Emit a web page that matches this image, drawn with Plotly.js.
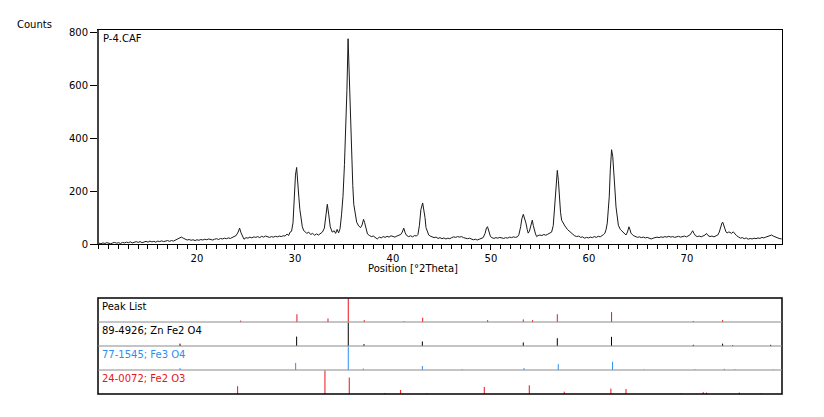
<!DOCTYPE html>
<html>
<head>
<meta charset="utf-8">
<script src="https://cdn.plot.ly/plotly-3.0.1.min.js"></script>
<style>html,body{margin:0;padding:0;background:#fff;}#chart{width:824px;height:417px;}</style>
</head>
<body>
<div id="chart"></div>
<script>
// ---- Measured pattern (Position [°2Theta] vs Counts) ----
const twoTheta = [
10.0,10.2,10.4,10.6,10.8,11.0,11.2,11.4,11.6,11.8,
12.0,12.2,12.4,12.6,12.8,13.0,13.2,13.4,13.6,13.8,
14.0,14.2,14.4,14.6,14.8,15.0,15.2,15.4,15.6,15.8,
16.0,16.2,16.4,16.6,16.8,17.0,17.2,17.4,17.6,17.8,
18.0,18.2,18.4,18.6,18.8,19.0,19.2,19.4,19.6,19.8,
20.0,20.2,20.4,20.6,20.8,21.0,21.2,21.4,21.6,21.8,
22.0,22.2,22.4,22.6,22.8,23.0,23.2,23.4,23.6,23.8,
24.0,24.2,24.35,24.5,24.65,24.8,25.0,25.2,25.4,25.6,
25.8,26.0,26.2,26.4,26.6,26.8,27.0,27.2,27.4,27.6,
27.8,28.0,28.2,28.4,28.6,28.8,29.0,29.2,29.35,29.5,
29.65,29.8,29.95,30.05,30.17,30.3,30.4,30.5,30.6,30.75,
30.9,31.0,31.2,31.4,31.6,31.8,32.0,32.2,32.4,32.6,
32.8,33.0,33.15,33.3,33.45,33.6,33.8,34.0,34.15,34.3,
34.45,34.6,34.75,34.9,35.05,35.2,35.3,35.42,35.55,35.7,
35.8,35.9,36.0,36.15,36.3,36.5,36.7,36.85,37.0,37.1,
37.25,37.4,37.6,37.8,38.0,38.2,38.4,38.6,38.8,39.0,
39.2,39.4,39.6,39.8,40.0,40.2,40.4,40.6,40.8,40.95,
41.1,41.25,41.4,41.6,41.8,42.0,42.2,42.4,42.55,42.7,
42.85,43.03,43.15,43.27,43.37,43.5,43.65,43.8,44.0,44.2,
44.4,44.6,44.8,45.0,45.2,45.4,45.6,45.8,46.0,46.2,
46.4,46.6,46.8,47.0,47.2,47.4,47.6,47.8,48.0,48.2,
48.4,48.6,48.8,49.0,49.2,49.4,49.55,49.65,49.8,49.95,
50.1,50.3,50.5,50.7,50.9,51.1,51.3,51.5,51.7,51.9,
52.1,52.3,52.5,52.7,52.85,53.03,53.15,53.3,53.45,53.57,
53.7,53.8,53.92,54.05,54.22,54.32,54.42,54.55,54.66,54.8,
55.0,55.2,55.4,55.6,55.8,56.0,56.19,56.36,56.53,56.65,
56.77,56.88,56.97,57.1,57.21,57.38,57.55,57.8,58.06,58.3,
58.5,58.74,58.95,59.15,59.35,59.55,59.75,59.95,60.15,60.35,
60.55,60.75,60.95,61.15,61.35,61.5,61.63,61.75,61.87,61.97,
62.07,62.18,62.31,62.43,62.55,62.66,62.76,62.88,63.0,63.2,
63.44,63.6,63.78,63.93,64.08,64.18,64.29,64.52,64.75,64.95,
65.15,65.35,65.55,65.75,65.95,66.15,66.35,66.55,66.75,66.95,
67.15,67.35,67.55,67.75,67.95,68.15,68.35,68.55,68.75,68.95,
69.15,69.35,69.55,69.75,69.95,70.15,70.3,70.45,70.58,70.72,
70.88,71.05,71.25,71.45,71.65,71.85,72.0,72.15,72.35,72.55,
72.75,72.95,73.15,73.3,73.45,73.58,73.66,73.78,73.9,73.98,
74.1,74.25,74.39,74.55,74.73,74.9,75.05,75.24,75.45,75.65,
75.85,76.05,76.25,76.45,76.65,76.85,77.05,77.25,77.45,77.65,
77.85,78.05,78.25,78.45,78.64,78.8,79.0,79.2,79.4,79.66
];
const counts = [
3,1,4,2,5,3,1,4,6,3,
5,2,6,4,7,5,8,4,7,9,
6,9,5,8,10,7,11,8,10,7,
11,9,12,9,11,13,10,13,11,15,
17,21,26,22,18,15,17,14,16,13,
16,14,17,15,18,16,19,17,15,18,
20,17,21,19,22,20,23,21,24,27,
32,45,60,42,26,18,24,22,26,23,
27,25,28,24,29,26,30,27,25,28,
26,29,27,30,28,31,30,38,32,45,
48,80,190,260,289,200,175,130,100,65,
50,48,40,45,36,40,33,38,34,40,
45,60,110,150,110,65,45,50,40,55,
42,58,110,180,300,450,580,775,600,420,
320,220,150,105,82,68,62,72,93,82,
55,38,32,28,30,25,19,26,23,28,
25,29,26,31,28,26,30,33,36,45,
60,42,32,28,31,27,32,30,36,70,
130,155,130,100,62,45,34,30,27,24,
26,21,24,20,23,19,22,20,24,27,
25,28,26,28,24,22,20,22,18,16,
18,15,18,21,24,40,62,65,42,28,
24,21,24,22,25,23,21,24,22,26,
24,27,25,27,35,65,95,112,95,79,
55,41,48,65,90,70,53,38,28,32,
34,32,36,33,37,40,45,70,165,240,
278,240,178,120,90,78,68,55,46,38,
32,28,30,25,27,22,25,23,26,24,
28,25,29,27,31,36,41,55,79,120,
178,280,356,330,278,200,140,95,71,55,
46,38,34,45,65,55,41,32,28,25,
27,24,26,23,25,21,19,22,24,26,
24,27,25,28,26,29,26,28,25,27,
29,26,28,30,27,30,34,42,50,40,
31,28,30,27,30,34,40,32,28,30,
27,30,34,45,65,80,82,68,50,46,
42,45,44,40,46,38,32,27,22,24,
20,23,18,21,19,22,20,23,21,25,
23,26,28,31,34,30,26,24,21,19
];

// ---- Peak list (position, relative intensity %) ----
const peakListPos = [24.46,30.20,33.37,35.44,37.07,41.12,43.03,49.66,53.30,54.25,56.77,62.31,70.65,73.64];
const peakListInt = [6,33,15,100,8,3,18,8,11,8,33,42,4,8];

// ---- Reference 89-4926; Zn Fe2 O4 ----
const znfePos = [18.27,30.17,35.44,37.04,43.00,53.30,56.77,62.30,70.65,73.64,74.66,78.54];
const znfeInt = [10,40,100,8,19,15,33,39,5,10,3,5];

// ---- Reference 77-1545; Fe3 O4 ----
const fe3o4Pos = [18.27,30.07,35.44,36.97,43.00,47.07,53.37,56.87,62.41,65.64,70.82,73.81,74.90,78.81];
const fe3o4Int = [8,30,100,6,17,3,8,25,35,2,3,5,3,2];

// ---- Reference 24-0072; Fe2 O3 ----
const fe2o3Pos = [24.15,33.06,35.54,39.18,40.78,43.44,49.32,53.91,57.48,62.24,63.78,69.39,71.66,72.00,75.34,77.55];
const fe2o3Int = [33,100,70,4,17,3,30,37,10,23,21,3,8,6,6,3];

const xTickVals = [20,30,40,50,60,70];
const yTickVals = [0,200,400,600,800];
const rowLabels = ["Peak List","89-4926; Zn Fe2 O4","77-1545; Fe3 O4","24-0072; Fe2 O3"];

// ---- Layout geometry ----
const W = 824, H = 417;
const X0 = 98/W, X1 = 782/W;
const FONT = "DejaVu Sans, Liberation Sans, Arial, sans-serif";
const RED = "#e8141c", BLUE = "#2b8ef0", BLACK = "#000000";

function sticks(pos, inten, row, color, name) {
  const x = [], y = [];
  pos.forEach((p, i) => { x.push(p, p, null); y.push(row, row + inten[i] / 100 * 0.98, null); });
  return {x, y, type: "scatter", mode: "lines", xaxis: "x2", yaxis: "y2",
          line: {color, width: 1}, hoverinfo: "skip", name};
}

const traces = [
  {x: twoTheta, y: counts, type: "scatter", mode: "lines",
   line: {color: "#1a1a1a", width: 1}, name: "P-4.CAF"},
  sticks(peakListPos, peakListInt, 3, RED, "Peak List"),
  sticks(znfePos, znfeInt, 2, BLACK, rowLabels[1]),
  sticks(fe3o4Pos, fe3o4Int, 1, BLUE, rowLabels[2]),
  sticks(fe2o3Pos, fe2o3Int, 0, RED, rowLabels[3])
];

const rowColors = [BLACK, BLACK, BLUE, RED];
const rowTopsPx = [299, 323, 347, 371];

const annotations = [
  {text: "Counts", xref: "paper", yref: "paper", x: 15/W, y: 1 - 24.5/H, xanchor: "left", yanchor: "middle", showarrow: false, font: {size: 10, family: FONT, color: "#000"}},
  {text: "P-4.CAF", xref: "paper", yref: "paper", x: 101/W, y: 1 - 31/H, xanchor: "left", yanchor: "top", showarrow: false, font: {size: 10, family: FONT, color: "#000"}},
  {text: "Position [°2Theta]", xref: "paper", yref: "paper", x: 413/W, y: 1 - 268/H, xanchor: "center", yanchor: "middle", showarrow: false, font: {size: 10, family: FONT, color: "#000"}}
];
rowLabels.forEach((t, i) => annotations.push({
  text: t, xref: "paper", yref: "paper", x: 100/W, y: 1 - rowTopsPx[i]/H, xanchor: "left", yanchor: "top",
  showarrow: false, font: {size: 10, family: FONT, color: rowColors[i]}
}));

const shapes = [
  {type: "rect", xref: "paper", yref: "paper", x0: X0, x1: X1, y0: 1 - 394/H, y1: 1 - 298/H, line: {color: "#000", width: 1.5}},
  {type: "line", xref: "paper", yref: "paper", x0: X0, x1: X0, y0: 1 - 244/H, y1: 1 - 30/H, line: {color: "#444", width: 2}}
];
[1, 2, 3].forEach(r => shapes.push({type: "line", xref: "paper", yref: "y2", x0: X0, x1: X1, y0: r, y1: r, line: {color: "#8a8a8a", width: 1}}));

const layout = {
  width: W, height: H, margin: {l: 0, r: 0, t: 0, b: 0},
  paper_bgcolor: "#fff", plot_bgcolor: "#fff", showlegend: false,
  font: {family: FONT, size: 10, color: "#000"},
  xaxis: {domain: [X0, X1], range: [9.9, 79.7], anchor: "y",
          tickmode: "array", tickvals: xTickVals, ticks: "outside", ticklen: 5, tickcolor: "#000",
          showgrid: false, zeroline: false, showline: true, linecolor: "#000", linewidth: 1, mirror: true,
          tickfont: {size: 10, family: FONT, color: "#000"},
          minor: {tickmode: "linear", tick0: 0, dtick: 1, ticks: "outside", ticklen: 4, tickcolor: "#000", showgrid: false}},
  yaxis: {domain: [1 - 244/H, 1 - 30/H], range: [0, 808], anchor: "x",
          tickmode: "array", tickvals: yTickVals, ticks: "outside", ticklen: 7, tickcolor: "#000",
          showgrid: false, zeroline: false, showline: true, linecolor: "#000", linewidth: 1, mirror: true,
          tickfont: {size: 10, family: FONT, color: "#000"}},
  xaxis2: {domain: [X0, X1], range: [9.9, 79.7], anchor: "y2", visible: false, showgrid: false, zeroline: false},
  yaxis2: {domain: [1 - 394/H, 1 - 298/H], range: [0, 4], anchor: "x2", visible: false, showgrid: false, zeroline: false},
  annotations, shapes
};

Plotly.newPlot("chart", traces, layout, {displayModeBar: false, staticPlot: true});
</script>
</body>
</html>
